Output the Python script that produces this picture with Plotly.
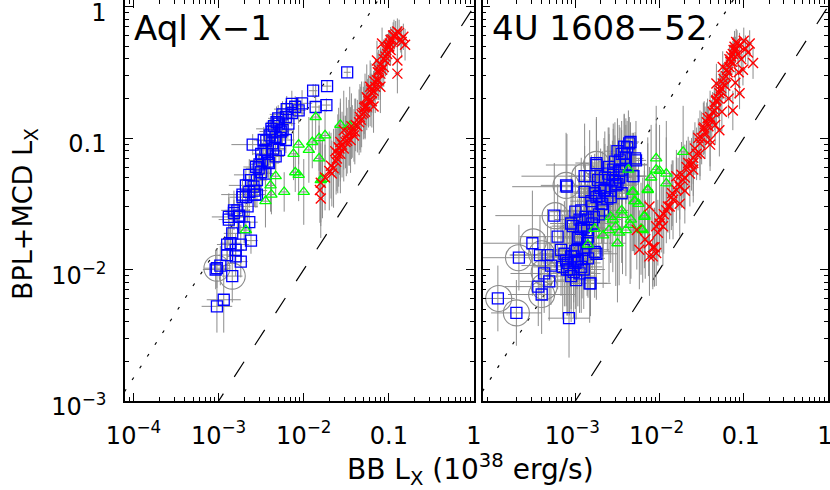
import numpy as np
import plotly.graph_objects as go

# ---------------- data (log10 of luminosity in 1e38 erg/s) -------------
# Aql X-1 : blue squares
aql_sq_lx = [-1.49, -1.726, -1.89, -1.734, -1.86, -2.02, -2.10, -2.14, -2.21, -2.29,
             -2.18, -2.35, -2.25, -2.33, -2.21, -2.37, -2.60, -2.45, -2.29, -2.49,
             -2.33, -2.41, -2.53, -2.45, -2.64, -2.55, -2.68, -2.59, -2.72, -2.57,
             -2.64, -2.82, -2.88, -2.76, -2.14, -2.06, -2.37, -2.47, -2.72, -2.55,
             -2.88, -2.82, -2.76, -2.64, -2.84, -2.90, -2.74, -2.62, -2.90, -2.80,
             -2.74, -2.98, -3.02, -3.035, -2.84, -2.94, -3.02, -2.30, -2.40, -2.20,
             -2.27, -2.43, -2.52, -2.25, -2.32, -2.38, -2.28, -2.44, -2.36, -2.50,
             -2.42, -2.56, -2.50, -2.62, -2.58, -2.68, -2.66, -2.78, -2.70, -2.86, -2.80]
aql_sq_ly = [-0.50, -0.605, -0.64, -0.749, -0.764, -0.736, -0.762, -0.81, -0.84, -0.89,
             -0.89, -0.91, -0.94, -0.99, -1.015, -1.04, -1.05, -1.09, -1.09, -1.17,
             -1.14, -1.19, -1.23, -1.27, -1.28, -1.32, -1.36, -1.37, -1.43, -1.43,
             -1.41, -1.55, -1.60, -1.59, -0.74, -0.79, -0.95, -1.015, -1.45, -1.43,
             -1.62, -1.57, -1.60, -1.64, -1.725, -1.81, -1.81, -1.78, -1.89, -1.90,
             -1.94, -1.97, -1.99, -2.00, -2.05, -2.23, -2.28, -0.85, -0.98, -0.78,
             -0.95, -1.12, -1.20, -0.82, -0.88, -0.93, -1.00, -1.02, -1.08, -1.12,
             -1.18, -1.22, -1.26, -1.32, -1.40, -1.45, -1.52, -1.55, -1.68, -1.80, -1.85]
aql_sq_ex = [0.04, 0.05, 0.05, 0.05, 0.05, 0.12, 0.10, 0.15, 0.12, 0.15,
             0.08, 0.10, 0.12, 0.15, 0.10, 0.12, 0.25, 0.10, 0.08, 0.15,
             0.10, 0.12, 0.15, 0.10, 0.18, 0.12, 0.20, 0.10, 0.25, 0.10,
             0.12, 0.15, 0.20, 0.12, 0.10, 0.08, 0.15, 0.12, 0.15, 0.10,
             0.12, 0.10, 0.08, 0.10, 0.10, 0.12, 0.10, 0.08, 0.10, 0.10,
             0.08, 0.12, 0.15, 0.15, 0.12, 0.20, 0.18, 0.12, 0.10, 0.15,
             0.10, 0.12, 0.12, 0.15, 0.12, 0.18, 0.10, 0.12, 0.15, 0.10,
             0.12, 0.15, 0.10, 0.12, 0.15, 0.10, 0.12, 0.15, 0.10, 0.12, 0.10]
aql_sq_ey = [0.04, 0.04, 0.05, 0.05, 0.05, 0.10, 0.08, 0.10, 0.12, 0.10,
             0.08, 0.10, 0.12, 0.10, 0.10, 0.12, 0.08, 0.10, 0.10, 0.12,
             0.10, 0.12, 0.10, 0.10, 0.12, 0.10, 0.12, 0.10, 0.12, 0.10,
             0.12, 0.15, 0.15, 0.12, 0.10, 0.10, 0.12, 0.10, 0.12, 0.10,
             0.20, 0.10, 0.12, 0.10, 0.15, 0.12, 0.15, 0.10, 0.12, 0.15,
             0.12, 0.15, 0.15, 0.15, 0.20, 0.25, 0.20, 0.10, 0.12, 0.10,
             0.10, 0.12, 0.10, 0.10, 0.12, 0.10, 0.12, 0.10, 0.12, 0.10,
             0.12, 0.10, 0.12, 0.10, 0.12, 0.15, 0.12, 0.15, 0.12, 0.15, 0.12]
# Aql X-1 : green triangles
aql_tri_lx = [-1.86, -1.57, -1.75, -1.82, -1.90, -2.06, -1.94, -2.12, -1.82, -2.10,
              -2.06, -2.33, -2.39, -2.23, -2.00, -2.38, -2.45, -1.78, -1.46, -1.80, -2.68]
aql_tri_ly = [-0.84, -0.90, -0.98, -1.00, -1.03, -1.05, -1.09, -1.12, -1.155, -1.26,
              -1.28, -1.29, -1.36, -1.41, -1.41, -1.43, -1.48, -1.31, -0.91, -1.32, -1.70]
aql_tri_ex = [0.04, 0.04, 0.05, 0.04, 0.05, 0.04, 0.05, 0.04, 0.05, 0.04,
              0.05, 0.04, 0.05, 0.04, 0.05, 0.04, 0.05, 0.04, 0.04, 0.05, 0.05]
aql_tri_ey = [0.25, 0.20, 0.20, 0.25, 0.20, 0.15, 0.25, 0.20, 0.25, 0.15,
              0.20, 0.15, 0.20, 0.15, 0.25, 0.15, 0.20, 0.30, 0.30, 0.35, 0.10]
# Aql X-1 : red crosses
aql_x_lx = [-1.80, -1.81, -1.80, -1.67, -1.65, -1.61, -1.63, -1.57, -1.53, -1.51,
            -1.45, -1.41, -1.57, -1.47, -1.37, -1.33, -1.30, -1.26, -1.22, -1.20,
            -1.16, -1.12, -1.10, -1.06, -1.04, -1.02, -1.00, -0.98, -0.94, -0.90,
            -0.83, -0.81, -0.90, -0.90, -1.10, -1.26, -1.14, -1.08, -1.28, -1.53,
            -1.59, -1.44, -1.18, -1.22, -1.35, -1.28, -1.24, -1.18, -1.14, -1.08,
            -1.04, -1.00, -0.96, -0.92, -1.40, -1.50, -1.55, -1.60, -1.68, -1.20,
            -1.32, -1.12, -0.98, -0.86, -1.75, -1.70, -1.62, -1.58, -1.49, -1.43,
            -1.39, -1.34, -1.29, -1.25, -1.21, -1.17, -1.13, -1.10, -1.06, -1.03,
            -0.99, -0.95, -0.88, -0.85]
aql_x_ly = [-1.46, -1.395, -1.34, -1.27, -1.23, -1.155, -1.10, -1.12, -1.08, -1.03,
            -1.015, -0.98, -1.03, -0.96, -0.91, -0.86, -0.81, -0.76, -0.71, -0.66,
            -0.61, -0.56, -0.51, -0.46, -0.41, -0.36, -0.31, -0.255, -0.22, -0.19,
            -0.23, -0.29, -0.41, -0.51, -0.61, -0.69, -0.41, -0.28, -0.76, -0.94,
            -1.07, -0.91, -0.76, -0.61, -0.88, -0.80, -0.72, -0.64, -0.56, -0.48,
            -0.38, -0.30, -0.25, -0.21, -0.95, -0.99, -1.05, -1.12, -1.21, -0.72,
            -0.82, -0.48, -0.33, -0.25, -1.30, -1.25, -1.18, -1.08, -1.02, -0.95,
            -0.90, -0.84, -0.77, -0.70, -0.63, -0.57, -0.50, -0.44, -0.40, -0.33,
            -0.28, -0.22, -0.20, -0.27]
aql_x_ex = [0.03, 0.03, 0.03, 0.03, 0.02, 0.03, 0.02, 0.03, 0.02, 0.03,
            0.02, 0.03, 0.02, 0.03, 0.02, 0.03, 0.02, 0.03, 0.02, 0.03,
            0.02, 0.03, 0.02, 0.03, 0.02, 0.03, 0.02, 0.03, 0.02, 0.03,
            0.02, 0.03, 0.02, 0.03, 0.02, 0.03, 0.02, 0.03, 0.02, 0.03,
            0.02, 0.03, 0.02, 0.03, 0.02, 0.03, 0.02, 0.03, 0.02, 0.03,
            0.02, 0.03, 0.02, 0.03, 0.02, 0.03, 0.02, 0.03, 0.02, 0.03,
            0.02, 0.03, 0.02, 0.03, 0.02, 0.03, 0.02, 0.03, 0.02, 0.03,
            0.02, 0.03, 0.02, 0.03, 0.02, 0.03, 0.02, 0.03, 0.02, 0.03,
            0.02, 0.03, 0.02, 0.03]
aql_x_ey = [0.30, 0.25, 0.30, 0.25, 0.30, 0.25, 0.20, 0.30, 0.25, 0.20,
            0.25, 0.20, 0.30, 0.25, 0.20, 0.25, 0.20, 0.15, 0.20, 0.15,
            0.20, 0.15, 0.20, 0.15, 0.12, 0.15, 0.12, 0.10, 0.12, 0.10,
            0.10, 0.12, 0.15, 0.15, 0.20, 0.25, 0.15, 0.12, 0.25, 0.30,
            0.30, 0.25, 0.20, 0.20, 0.25, 0.20, 0.20, 0.15, 0.15, 0.15,
            0.12, 0.12, 0.10, 0.10, 0.25, 0.30, 0.25, 0.30, 0.25, 0.20,
            0.25, 0.15, 0.12, 0.10, 0.25, 0.30, 0.25, 0.20, 0.25, 0.20,
            0.20, 0.25, 0.20, 0.15, 0.20, 0.15, 0.15, 0.12, 0.15, 0.12,
            0.10, 0.10, 0.10, 0.12]
# Aql X-1 : grey circles (flagged observations)
aql_circ_lx = [-3.02, -2.84]
aql_circ_ly = [-1.99, -2.05]

# 4U 1608-52 : blue squares
u_sq_lx = [-2.345, -2.385, -2.45, -2.29, -2.53, -2.75, -2.31, -2.45, -2.61, -2.89,
           -2.73, -2.53, -3.10, -2.89, -2.77, -2.65, -2.45, -2.81, -2.69, -2.93,
           -3.00, -3.25, -3.05, -2.85, -2.93, -3.21, -2.97, -2.85, -3.51, -2.77,
           -3.13, -3.33, -3.42, -3.67, -3.05, -2.97, -2.85, -3.09, -2.93, -3.29,
           -3.37, -3.07, -3.31, -2.82, -3.44, -3.40, -3.92, -3.70, -3.075, -3.17,
           -2.36, -2.42, -2.28, -2.75, -3.11, -2.83, -2.56, -2.32, -3.03, -2.95,
           -2.75, -2.83, -3.11, -2.95, -2.60, -2.55, -2.50, -2.65, -2.70, -2.58,
           -2.62, -2.72, -2.48, -2.40, -2.67, -2.78, -2.86, -2.90, -3.00, -2.98,
           -3.02, -2.50, -2.42, -2.47, -2.40, -2.55, -2.48, -2.60, -2.52, -2.66,
           -2.58, -2.75, -2.68, -2.80, -2.72, -2.88, -2.80, -2.90, -2.95, -2.86,
           -3.02, -2.92, -3.05, -2.99, -3.15, -3.10, -2.90, -3.00]
u_sq_ly = [-1.03, -1.07, -1.12, -1.155, -1.18, -1.205, -1.29, -1.24, -1.27, -1.29,
           -1.32, -1.33, -1.37, -1.41, -1.42, -1.395, -1.42, -1.48, -1.50, -1.55,
           -1.56, -1.59, -1.65, -1.62, -1.69, -1.75, -1.76, -1.75, -1.80, -1.865,
           -1.88, -1.89, -1.89, -1.91, -1.90, -1.93, -1.915, -1.95, -1.98, -1.97,
           -2.03, -2.00, -2.09, -2.105, -2.13, -2.19, -2.22, -2.33, -2.37, -1.85,
           -1.04, -1.065, -1.17, -1.19, -1.36, -1.29, -1.32, -1.29, -1.67, -1.75,
           -1.88, -2.105, -1.93, -2.03, -1.22, -1.28, -1.35, -1.30, -1.38, -1.40,
           -1.46, -1.44, -1.25, -1.20, -1.55, -1.60, -1.70, -1.85, -1.95, -1.85,
           -2.02, -1.10, -1.12, -1.17, -1.15, -1.24, -1.30, -1.32, -1.36, -1.40,
           -1.45, -1.45, -1.50, -1.52, -1.58, -1.60, -1.65, -1.68, -1.62, -1.80,
           -1.90, -1.92, -2.05, -2.08, -1.98, -2.00, -2.00, -1.86]
u_sq_ex = [0.10, 0.10, 0.15, 0.10, 0.20, 0.60, 0.15, 0.20, 0.25, 0.75,
           0.25, 0.20, 0.65, 0.30, 0.25, 0.20, 0.15, 0.25, 0.20, 0.30,
           0.30, 0.70, 0.25, 0.20, 0.30, 0.45, 0.25, 0.20, 0.60, 0.20,
           0.30, 0.45, 0.35, 0.55, 0.25, 0.20, 0.20, 0.30, 0.25, 0.35,
           0.40, 0.25, 0.35, 0.20, 0.40, 0.40, 0.20, 0.30, 0.25, 0.30,
           0.10, 0.12, 0.12, 0.25, 0.30, 0.25, 0.20, 0.15, 0.25, 0.25,
           0.25, 0.25, 0.30, 0.25, 0.20, 0.20, 0.25, 0.20, 0.25, 0.20,
           0.20, 0.25, 0.20, 0.25, 0.25, 0.30, 0.25, 0.30, 0.30, 0.25,
           0.25, 0.15, 0.12, 0.15, 0.12, 0.20, 0.15, 0.20, 0.25, 0.20,
           0.25, 0.30, 0.20, 0.25, 0.30, 0.25, 0.30, 0.25, 0.30, 0.25,
           0.30, 0.25, 0.30, 0.25, 0.35, 0.30, 0.25, 0.30]
u_sq_ey = [0.15, 0.20, 0.25, 0.20, 0.30, 0.35, 0.25, 0.30, 0.35, 0.40,
           0.30, 0.35, 0.40, 0.35, 0.30, 0.35, 0.40, 0.35, 0.30, 0.40,
           0.35, 0.40, 0.35, 0.30, 0.35, 0.40, 0.30, 0.35, 0.40, 0.35,
           0.40, 0.35, 0.30, 0.25, 0.40, 0.35, 0.30, 0.40, 0.35, 0.30,
           0.30, 0.35, 0.30, 0.25, 0.30, 0.30, 0.25, 0.25, 0.30, 0.35,
           0.20, 0.25, 0.30, 0.35, 0.40, 0.35, 0.30, 0.30, 0.35, 0.40,
           0.35, 0.30, 0.35, 0.30, 0.30, 0.35, 0.30, 0.35, 0.30, 0.35,
           0.40, 0.30, 0.35, 0.30, 0.35, 0.30, 0.35, 0.30, 0.35, 0.30,
           0.35, 0.25, 0.30, 0.25, 0.30, 0.35, 0.30, 0.35, 0.30, 0.40,
           0.35, 0.30, 0.40, 0.35, 0.30, 0.40, 0.35, 0.30, 0.35, 0.40,
           0.35, 0.30, 0.35, 0.30, 0.40, 0.35, 0.30, 0.35]
# 4U 1608-52 : green triangles
u_tri_lx = [-1.72, -2.04, -2.04, -1.92, -2.37, -1.92, -2.14, -2.325, -2.30, -2.18,
            -2.44, -2.555, -2.34, -2.20, -2.40, -2.52, -2.77, -2.67, -2.50, -2.85,
            -2.60, -2.31, -2.29, -2.14, -2.18, -2.22, -2.10, -2.25, -2.45, -2.35,
            -2.58, -2.48, -2.00]
u_tri_ly = [-1.105, -1.155, -1.24, -1.27, -1.24, -1.345, -1.395, -1.41, -1.48, -1.60,
            -1.585, -1.62, -1.62, -1.70, -1.70, -1.675, -1.69, -1.74, -1.80, -1.81,
            -1.70, -1.41, -1.48, -1.39, -1.59, -1.69, -1.30, -1.50, -1.55, -1.66,
            -1.60, -1.72, -1.25]
u_tri_ex = [0.05, 0.06, 0.05, 0.06, 0.08, 0.05, 0.06, 0.08, 0.06, 0.05,
            0.08, 0.10, 0.06, 0.05, 0.08, 0.10, 0.10, 0.08, 0.10, 0.10,
            0.08, 0.06, 0.05, 0.06, 0.05, 0.06, 0.05, 0.06, 0.08, 0.06,
            0.08, 0.06, 0.05]
u_tri_ey = [0.35, 0.40, 0.35, 0.40, 0.45, 0.35, 0.40, 0.45, 0.40, 0.35,
            0.45, 0.40, 0.45, 0.40, 0.35, 0.45, 0.35, 0.40, 0.45, 0.35,
            0.40, 0.45, 0.40, 0.35, 0.40, 0.35, 0.40, 0.35, 0.40, 0.45,
            0.35, 0.40, 0.35]
# 4U 1608-52 : red crosses
u_x_lx = [-2.08, -2.06, -2.04, -1.96, -1.92, -1.84, -1.80, -1.72, -1.64, -1.66,
          -1.56, -1.52, -1.46, -1.42, -1.40, -1.345, -1.325, -1.29, -1.25, -1.21,
          -1.17, -1.15, -1.11, -1.09, -0.93, -0.89, -1.01, -1.13, -1.29, -1.40,
          -1.60, -1.76, -2.00, -1.325, -1.25, -1.07, -1.05, -2.24, -2.12, -2.04,
          -2.08, -2.00, -2.12, -1.88, -1.76, -1.80, -1.60, -2.27, -2.17, -2.13,
          -1.50, -1.38, -1.35, -1.30, -1.22, -1.19, -1.14, -1.12, -1.05, -0.98,
          -1.60, -1.70, -1.86, -1.95, -1.44, -1.27, -1.17, -1.03, -1.62, -1.48,
          -2.02, -1.98, -1.90, -1.85, -1.78, -1.74, -1.68, -1.58, -1.54, -1.47,
          -1.43, -1.37, -1.33, -1.28, -1.24, -1.20, -1.16, -1.13, -1.10, -1.08,
          -1.00, -0.95, -1.06, -1.10, -1.18, -1.26, -1.34, -1.40, -1.52, -1.70]
u_x_ly = [-1.90, -1.83, -1.67, -1.67, -1.55, -1.47, -1.395, -1.32, -1.27, -1.19,
          -1.12, -1.04, -0.96, -0.91, -0.84, -0.79, -0.71, -0.66, -0.585, -0.53,
          -0.46, -0.38, -0.305, -0.27, -0.28, -0.43, -0.48, -0.79, -0.94, -1.015,
          -1.24, -1.50, -1.60, -0.585, -0.46, -0.36, -0.66, -1.85, -1.90, -1.875,
          -1.83, -1.65, -1.52, -1.52, -1.37, -1.29, -1.19, -1.70, -1.77, -1.80,
          -1.00, -0.86, -0.75, -0.70, -0.60, -0.50, -0.42, -0.33, -0.30, -0.32,
          -1.15, -1.30, -1.45, -1.58, -0.88, -0.62, -0.40, -0.40, -1.20, -0.93,
          -1.72, -1.62, -1.52, -1.42, -1.35, -1.28, -1.22, -1.08, -1.00, -0.92,
          -0.85, -0.80, -0.72, -0.64, -0.55, -0.48, -0.42, -0.36, -0.33, -0.28,
          -0.26, -0.35, -0.50, -0.58, -0.70, -0.80, -0.90, -1.05, -1.12, -1.40]
u_x_ex = [0.03, 0.02, 0.03, 0.02, 0.03, 0.02, 0.03, 0.02, 0.03, 0.02,
          0.03, 0.02, 0.03, 0.02, 0.03, 0.02, 0.03, 0.02, 0.03, 0.02,
          0.03, 0.02, 0.03, 0.02, 0.03, 0.02, 0.03, 0.02, 0.03, 0.02,
          0.03, 0.02, 0.03, 0.02, 0.03, 0.02, 0.03, 0.02, 0.03, 0.02,
          0.03, 0.02, 0.03, 0.02, 0.03, 0.02, 0.03, 0.02, 0.03, 0.02,
          0.03, 0.02, 0.03, 0.02, 0.03, 0.02, 0.03, 0.02, 0.03, 0.02,
          0.03, 0.02, 0.03, 0.02, 0.03, 0.02, 0.03, 0.02, 0.03, 0.02,
          0.03, 0.02, 0.03, 0.02, 0.03, 0.02, 0.03, 0.02, 0.03, 0.02,
          0.03, 0.02, 0.03, 0.02, 0.03, 0.02, 0.03, 0.02, 0.03, 0.02,
          0.03, 0.02, 0.03, 0.02, 0.03, 0.02, 0.03, 0.02, 0.03, 0.02]
u_x_ey = [0.25, 0.30, 0.25, 0.30, 0.25, 0.30, 0.25, 0.20, 0.25, 0.20,
          0.20, 0.25, 0.20, 0.15, 0.20, 0.15, 0.20, 0.15, 0.12, 0.15,
          0.12, 0.10, 0.12, 0.10, 0.10, 0.12, 0.12, 0.15, 0.20, 0.20,
          0.25, 0.25, 0.30, 0.15, 0.12, 0.10, 0.12, 0.30, 0.30, 0.25,
          0.30, 0.25, 0.30, 0.25, 0.25, 0.20, 0.25, 0.30, 0.30, 0.25,
          0.20, 0.15, 0.15, 0.15, 0.12, 0.12, 0.10, 0.10, 0.10, 0.10,
          0.20, 0.25, 0.25, 0.30, 0.15, 0.12, 0.10, 0.10, 0.20, 0.20,
          0.25, 0.25, 0.20, 0.25, 0.20, 0.25, 0.20, 0.20, 0.15, 0.20,
          0.15, 0.15, 0.12, 0.15, 0.12, 0.12, 0.10, 0.10, 0.10, 0.10,
          0.10, 0.10, 0.12, 0.12, 0.15, 0.15, 0.15, 0.20, 0.20, 0.25]
# 4U 1608-52 : grey circles
u_circ_lx = [-2.75, -3.11, -2.89, -3.24, -3.50, -3.675, -3.40, -3.37, -3.37, -3.40, -3.91, -3.70]
u_circ_ly = [-1.20, -1.36, -1.29, -1.59, -1.79, -1.91, -1.88, -2.02, -2.13, -2.19, -2.22, -2.33]

# reference lines  L(BPL+MCD) = k * L(BB)
dotted_k = 15.0
dashed_k = 1.0
line_x = [1e-5, 10.0]

panel_names = ["Aql X\u22121", "4U 1608\u221252"]

x_tickvals = [1e-4, 1e-3, 1e-2, 0.1, 1]
x_ticktext = ["10<sup>\u22124</sup>", "10<sup>\u22123</sup>", "10<sup>\u22122</sup>", "0.1", "1"]
y_tickvals = [1e-3, 1e-2, 0.1, 1]
y_ticktext = ["10<sup>\u22123</sup>", "10<sup>\u22122</sup>", "0.1", "1"]

# ---------------- figure ----------------
GREY = "#8c8c8c"
FONT = "DejaVu Sans"


def lum(logs):
    return 10 ** np.asarray(logs, dtype=float)


def errs(logs, dex):
    v = lum(logs)
    d = np.asarray(dex, dtype=float)
    return v * (10 ** d - 1), v * (1 - 10 ** (-d))


fig = go.Figure()

panels = [
    dict(xa="x", ya="y", sq=(aql_sq_lx, aql_sq_ly, aql_sq_ex, aql_sq_ey),
         tri=(aql_tri_lx, aql_tri_ly, aql_tri_ex, aql_tri_ey),
         xx=(aql_x_lx, aql_x_ly, aql_x_ex, aql_x_ey), circ=(aql_circ_lx, aql_circ_ly)),
    dict(xa="x2", ya="y2", sq=(u_sq_lx, u_sq_ly, u_sq_ex, u_sq_ey),
         tri=(u_tri_lx, u_tri_ly, u_tri_ex, u_tri_ey),
         xx=(u_x_lx, u_x_ly, u_x_ex, u_x_ey), circ=(u_circ_lx, u_circ_ly)),
]

for p in panels:
    # reference lines
    fig.add_trace(go.Scatter(x=line_x, y=[dotted_k * v for v in line_x], mode="lines",
                             line=dict(color="black", width=1.2, dash="3px,11px"),
                             xaxis=p["xa"], yaxis=p["ya"], showlegend=False, hoverinfo="skip"))
    fig.add_trace(go.Scatter(x=line_x, y=[dashed_k * v for v in line_x], mode="lines",
                             line=dict(color="black", width=1.2, dash="18px,20px"),
                             xaxis=p["xa"], yaxis=p["ya"], showlegend=False, hoverinfo="skip"))
    # error bars first (grey, underneath all symbols)
    for key in ("xx", "tri", "sq"):
        lx, ly, ex, ey = p[key]
        exp, exm = errs(lx, ex)
        eyp, eym = errs(ly, ey)
        fig.add_trace(go.Scatter(
            x=lum(lx), y=lum(ly), mode="markers",
            marker=dict(size=2, color="rgba(0,0,0,0)"),
            error_x=dict(type="data", symmetric=False, array=exp, arrayminus=exm,
                         color=GREY, thickness=1, width=0),
            error_y=dict(type="data", symmetric=False, array=eyp, arrayminus=eym,
                         color=GREY, thickness=1, width=0),
            xaxis=p["xa"], yaxis=p["ya"], showlegend=False, hoverinfo="skip"))
    # grey circles
    cx, cy = p["circ"]
    fig.add_trace(go.Scatter(x=lum(cx), y=lum(cy), mode="markers",
                             marker=dict(symbol="circle-open", size=26, color=GREY,
                                         line=dict(width=1.1, color=GREY)),
                             xaxis=p["xa"], yaxis=p["ya"], showlegend=False))
    # blue squares
    lx, ly, _, _ = p["sq"]
    fig.add_trace(go.Scatter(x=lum(lx), y=lum(ly), mode="markers",
                             marker=dict(symbol="square-open", size=11, color="#0000ff",
                                         line=dict(width=1.3, color="#0000ff")),
                             xaxis=p["xa"], yaxis=p["ya"], showlegend=False))
    # green triangles
    lx, ly, _, _ = p["tri"]
    fig.add_trace(go.Scatter(x=lum(lx), y=lum(ly), mode="markers",
                             marker=dict(symbol="triangle-up-open", size=10, color="#00ff00",
                                         line=dict(width=1.3, color="#00ff00")),
                             xaxis=p["xa"], yaxis=p["ya"], showlegend=False))
    # red crosses
    lx, ly, _, _ = p["xx"]
    fig.add_trace(go.Scatter(x=lum(lx), y=lum(ly), mode="markers",
                             marker=dict(symbol="x-thin-open", size=10, color="#ff0000",
                                         line=dict(width=1.4, color="#ff0000")),
                             xaxis=p["xa"], yaxis=p["ya"], showlegend=False))

minor_x = [m * 10.0 ** e for e in range(-5, 1) for m in range(2, 10)]
minor_y = [m * 10.0 ** e for e in range(-4, 1) for m in range(2, 10)]

axis_common = dict(type="log", showgrid=False, zeroline=False, showline=True,
                   linecolor="black", linewidth=1.5, mirror="allticks", automargin=False,
                   ticks="inside", ticklen=8, tickwidth=1, tickcolor="black",
                   ticklabeloverflow="allow",
                   tickmode="array", tickfont=dict(family=FONT, size=24, color="black"))

ydom = [1 - 401 / 490, 1.0]
fig.update_layout(
    width=830, height=490,
    margin=dict(l=0, r=0, t=0, b=0),
    paper_bgcolor="white", plot_bgcolor="white",
    font=dict(family=FONT, color="black"),
    xaxis=dict(axis_common, domain=[125 / 830, 474 / 830], range=[-4.1, 0.0], anchor="y",
               tickvals=x_tickvals, ticktext=x_ticktext, ticklabelstandoff=12,
               minor=dict(ticks="inside", ticklen=4, tickcolor="black", tickmode="array",
                          tickvals=minor_x, showgrid=False)),
    yaxis=dict(axis_common, domain=ydom, range=[-3.0, 0.05], anchor="x",
               tickvals=y_tickvals, ticktext=y_ticktext, ticklabelstandoff=12,
               ticklabelshift=6,
               minor=dict(ticks="inside", ticklen=4, tickcolor="black", tickmode="array",
                          tickvals=minor_y, showgrid=False)),
    xaxis2=dict(axis_common, domain=[482.7 / 830, 828 / 830], range=[-4.1, 0.0], anchor="y2",
                tickvals=x_tickvals[1:], ticktext=x_ticktext[1:], ticklabelstandoff=12,
                ticklabelshift=-3,
                minor=dict(ticks="inside", ticklen=4, tickcolor="black", tickmode="array",
                           tickvals=minor_x, showgrid=False)),
    yaxis2=dict(axis_common, domain=ydom, range=[-3.0, 0.05], anchor="x2",
                tickvals=y_tickvals, ticktext=y_ticktext, showticklabels=False,
                minor=dict(ticks="inside", ticklen=4, tickcolor="black", tickmode="array",
                           tickvals=minor_y, showgrid=False)),
)

fig.add_annotation(xref="x domain", yref="y domain", x=0.02, y=0.93, xanchor="left",
                   yanchor="middle", text=panel_names[0], showarrow=False,
                   font=dict(family=FONT, size=34, color="black"))
fig.add_annotation(xref="x2 domain", yref="y2 domain", x=0.02, y=0.93, xanchor="left",
                   yanchor="middle", text=panel_names[1], showarrow=False,
                   font=dict(family=FONT, size=34, color="black"))
fig.add_annotation(xref="paper", yref="paper", x=24 / 830, y=(490 - 214) / 490,
                   text="BPL+MCD L<sub>X</sub>", textangle=-90, showarrow=False,
                   xanchor="center", yanchor="middle",
                   font=dict(family=FONT, size=27, color="black"))
fig.add_annotation(xref="paper", yref="paper", x=470 / 830, y=(490 - 469) / 490,
                   text="BB L<sub>X</sub> (10<sup>38</sup> erg/s)", showarrow=False,
                   xanchor="center", yanchor="middle",
                   font=dict(family=FONT, size=28, color="black"))

fig.write_html("out.html", config={"displayModeBar": False},
               post_script="document.body.style.margin='0px';document.body.style.overflow='hidden';")
